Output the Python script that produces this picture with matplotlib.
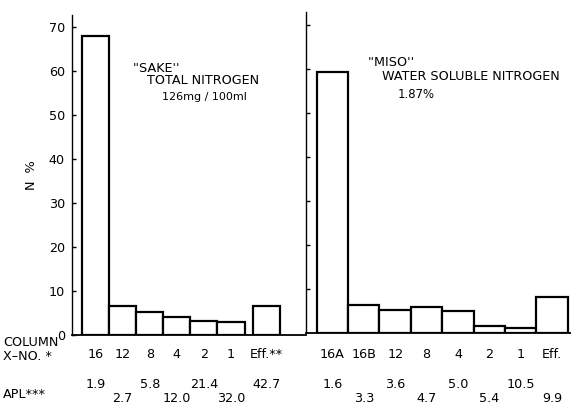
import numpy as np
import matplotlib
matplotlib.use("Agg")
import matplotlib.pyplot as plt
from matplotlib.transforms import blended_transform_factory

plt.rcParams["font.family"] = ["DejaVu Sans"]

# column fractions for "SAKE" (total nitrogen)
sake_cols = ["16", "12", "8", "4", "2", "1", "Eff.**"]
sake_n = [68.0, 6.5, 5.2, 4.2, 3.2, 3.0, 6.6]
sake_apl = ["1.9", "2.7", "5.8", "12.0", "21.4", "32.0", "42.7"]

# column fractions for "MISO" (water soluble nitrogen)
miso_cols = ["16A", "16B", "12", "8", "4", "2", "1", "Eff."]
miso_n = [59.3, 6.4, 5.2, 6.0, 5.0, 1.6, 1.1, 8.2]
miso_apl = ["1.6", "3.3", "3.6", "4.7", "5.0", "5.4", "10.5", "9.9"]

yticks = [0, 10, 20, 30, 40, 50, 60, 70]

W, H = 571, 405
fig = plt.figure(figsize=(W / 100, H / 100), dpi=100)


def px_axes(x0, x1, ytop, ybase):
    return fig.add_axes([x0 / W, 1 - ybase / H, (x1 - x0) / W, (ybase - ytop) / H])


FS = 9.2
LW = 1.6

ax1 = px_axes(72, 306, 15, 335)
ax2 = px_axes(306, 571, 12, 333)

x1 = np.arange(len(sake_n), dtype=float)
x1[-1] += 0.3  # effluent set apart from the columns
x2 = np.arange(len(miso_n), dtype=float)

ax1.bar(x1, sake_n, width=1.0, facecolor="white", edgecolor="black", linewidth=LW, zorder=3)
ax2.bar(x2, miso_n, width=1.0, facecolor="white", edgecolor="black", linewidth=LW, zorder=3)

ax1.set_xlim(-0.87, 7.77)
ax2.set_xlim(-0.84, 7.6)
ax1.set_ylim(0, 72.7)
ax2.set_ylim(0, 72.9)

for ax in (ax1, ax2):
    for s in ("top", "right"):
        ax.spines[s].set_visible(False)
    ax.spines["left"].set_linewidth(1.0)
    ax.spines["bottom"].set_linewidth(1.3)
    ax.set_xticks([])
    ax.set_yticks(yticks[1:] if ax is ax2 else yticks)
    ax.tick_params(axis="y", direction="in", length=3, width=1.0, labelsize=FS, pad=5)
    ax.patch.set_visible(False)

ax2.tick_params(axis="y", labelleft=False)
ax1.set_ylabel("N  %", fontsize=FS, labelpad=8)

# labels under the bars
for ax, xs, cols, apl in ((ax1, x1, sake_cols, sake_apl), (ax2, x2, miso_cols, miso_apl)):
    tr = blended_transform_factory(ax.transData, fig.transFigure)
    for i, (x, c, a) in enumerate(zip(xs, cols, apl)):
        ax.text(x, 1 - 355 / H, c, transform=tr, ha="center", va="center", fontsize=FS)
        ya = 384 if i % 2 == 0 else 398
        ax.text(x, 1 - ya / H, a, transform=tr, ha="center", va="center", fontsize=FS)

fig.text(3 / W, 1 - 342 / H, "COLUMN", ha="left", va="center", fontsize=FS)
fig.text(3 / W, 1 - 356 / H, "X\u2013NO. *", ha="left", va="center", fontsize=FS)
fig.text(3 / W, 1 - 394 / H, "APL***", ha="left", va="center", fontsize=FS)

# panel captions
fig.text(133 / W, 1 - 68 / H, "''SAKE''", ha="left", va="center", fontsize=FS)
fig.text(147 / W, 1 - 81 / H, "TOTAL NITROGEN", ha="left", va="center", fontsize=FS)
fig.text(162 / W, 1 - 97 / H, "126mg / 100ml", ha="left", va="center", fontsize=FS - 1.2)

fig.text(368 / W, 1 - 62 / H, "''MISO''", ha="left", va="center", fontsize=FS)
fig.text(382 / W, 1 - 77 / H, "WATER SOLUBLE NITROGEN", ha="left", va="center", fontsize=FS)
fig.text(398 / W, 1 - 95 / H, "1.87%", ha="left", va="center", fontsize=FS - 0.8)

fig.savefig("out.png", dpi=100)
